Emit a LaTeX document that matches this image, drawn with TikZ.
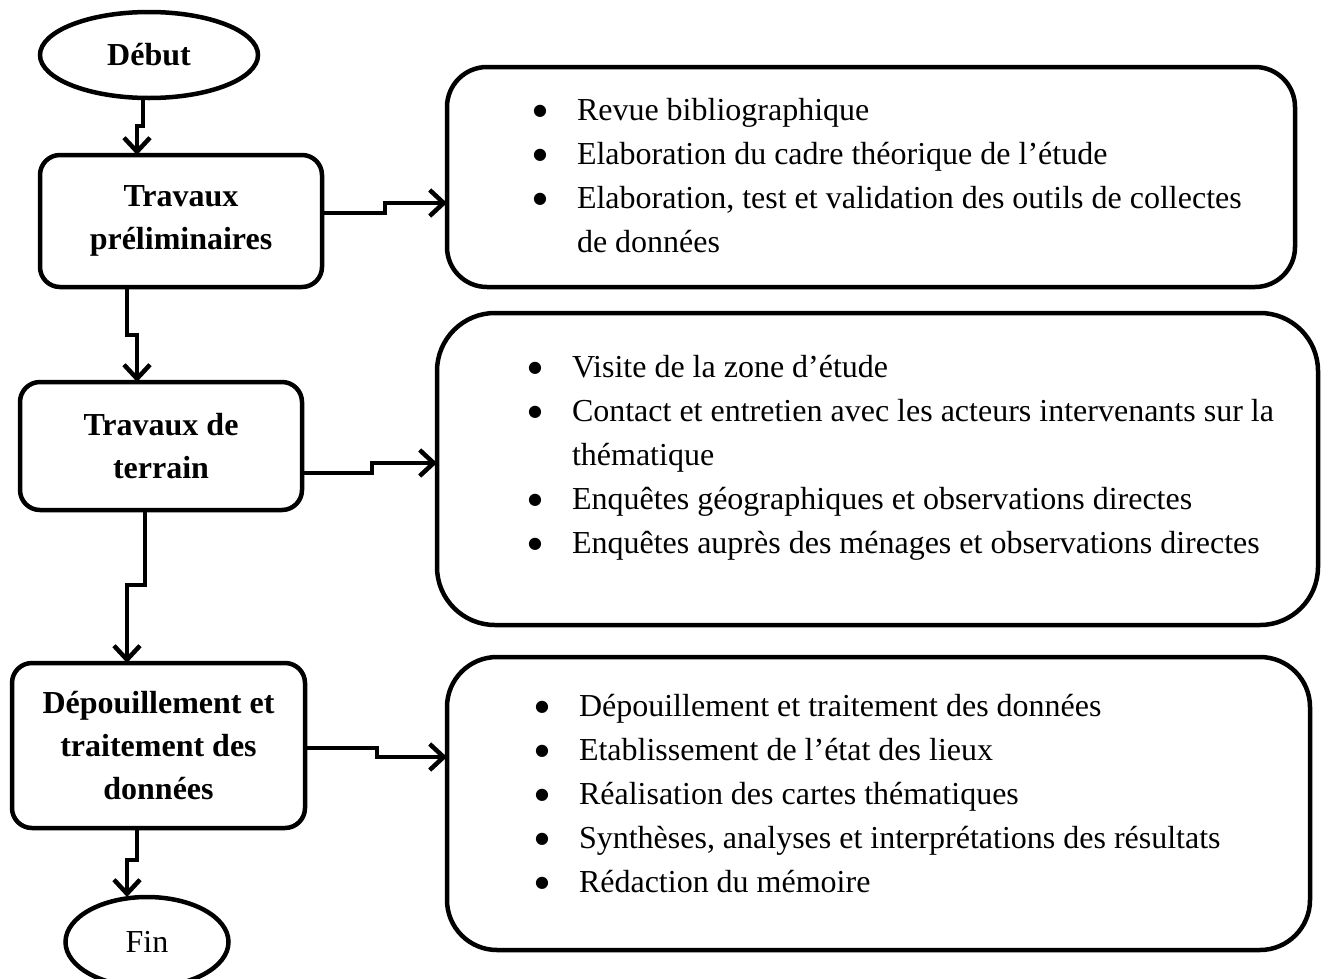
\documentclass[tikz,border=0pt]{standalone}
\usepackage{fontspec}
\setmainfont{Liberation Serif}
\newfontfamily\symfont{DejaVu Sans}
\usetikzlibrary{shapes.geometric,arrows.meta}
\newcommand{\bigbul}{\makebox[44pt][l]{\raisebox{5pt}{\symfont\fontsize{16}{16}\selectfont ●}}}
\begin{document}
\begin{tikzpicture}[x=1pt,y=-1pt,
 every node/.style={inner sep=0pt, outer sep=0pt},
 term/.style={ellipse, draw, line width=4.5pt, font=\fontsize{32}{43}\selectfont},
 stepbox/.style={rectangle, rounded corners=20pt, draw, line width=4.5pt, align=center, font=\bfseries\fontsize{32}{43}\selectfont},
 listbox/.style={rectangle, draw, line width=4.5pt},
 listtext/.style={anchor=north west, align=left, font=\fontsize{32}{44}\selectfont},
 arr/.style={line width=4.5pt, -{Straight Barb[length=14pt,width=26pt]}}
]
\useasboundingbox[fill=white] (0,0) rectangle (1323,978);

% left column
\node[term, minimum width=218pt, minimum height=86pt] (debut) at (149,55) {\textbf{Début}};
\node[stepbox, minimum width=282pt, minimum height=132pt] (b1) at (181,221) {Travaux\\préliminaires};
\node[stepbox, minimum width=282pt, minimum height=128pt] (b2) at (161,446) {Travaux de\\terrain};
\node[stepbox, minimum width=293pt, minimum height=165pt] (b3) at (158.5,745.5) {Dépouillement et\\traitement des\\données};
\node[term, minimum width=163pt, minimum height=90pt] (fin) at (147,942) {Fin};

% right boxes
\node[listbox, rounded corners=40pt, minimum width=848pt, minimum height=220pt] (r1) at (871,177) {};
\node[listbox, rounded corners=58pt, minimum width=881pt, minimum height=312pt] (r2) at (877.5,469) {};
\node[listbox, rounded corners=50pt, minimum width=863pt, minimum height=293pt] (r3) at (878.5,803.5) {};

\node[listtext] (t1) at (533,90) {\begin{tabular}{@{}l@{}l@{}}
\bigbul & Revue bibliographique\\
\bigbul & Elaboration du cadre théorique de l’étude\\
\bigbul & Elaboration, test et validation des outils de collectes\\
 & de données
\end{tabular}};
\node[listtext] (t2) at (528,347) {\begin{tabular}{@{}l@{}l@{}}
\bigbul & Visite de la zone d’étude\\
\bigbul & Contact et entretien avec les acteurs intervenants sur la\\
 & thématique\\
\bigbul & Enquêtes géographiques et observations directes\\
\bigbul & Enquêtes auprès des ménages et observations directes
\end{tabular}};
\node[listtext] (t3) at (535,686) {\begin{tabular}{@{}l@{}l@{}}
\bigbul & Dépouillement et traitement des données\\
\bigbul & Etablissement de l’état des lieux\\
\bigbul & Réalisation des cartes thématiques\\
\bigbul & Synthèses, analyses et interprétations des résultats\\
\bigbul & Rédaction du mémoire
\end{tabular}};

% connectors
\draw[arr] ([xshift=-6pt]debut.south) -- ++(0,28) -| ([xshift=-44pt]b1.north);
\draw[arr] ([xshift=-54pt]b1.south) -- ++(0,48) -| ([xshift=-24pt]b2.north);
\draw[arr] ([xshift=-16pt]b2.south) -- ++(0,75) -| ([xshift=-31.5pt]b3.north);
\draw[arr] ([xshift=-21.5pt]b3.south) -- ++(0,32) -| ([xshift=-20pt]fin.north);
\draw[arr] ([yshift=8pt]b1.east) -- ++(63,0) |- ([yshift=-26pt]r1.west);
\draw[arr] ([yshift=-27pt]b2.east) -- ++(70,0) |- ([yshift=6pt]r2.west);
\draw[arr] ([yshift=-2.5pt]b3.east) -- ++(72,0) |- ([yshift=46.5pt]r3.west);
\end{tikzpicture}
\end{document}
